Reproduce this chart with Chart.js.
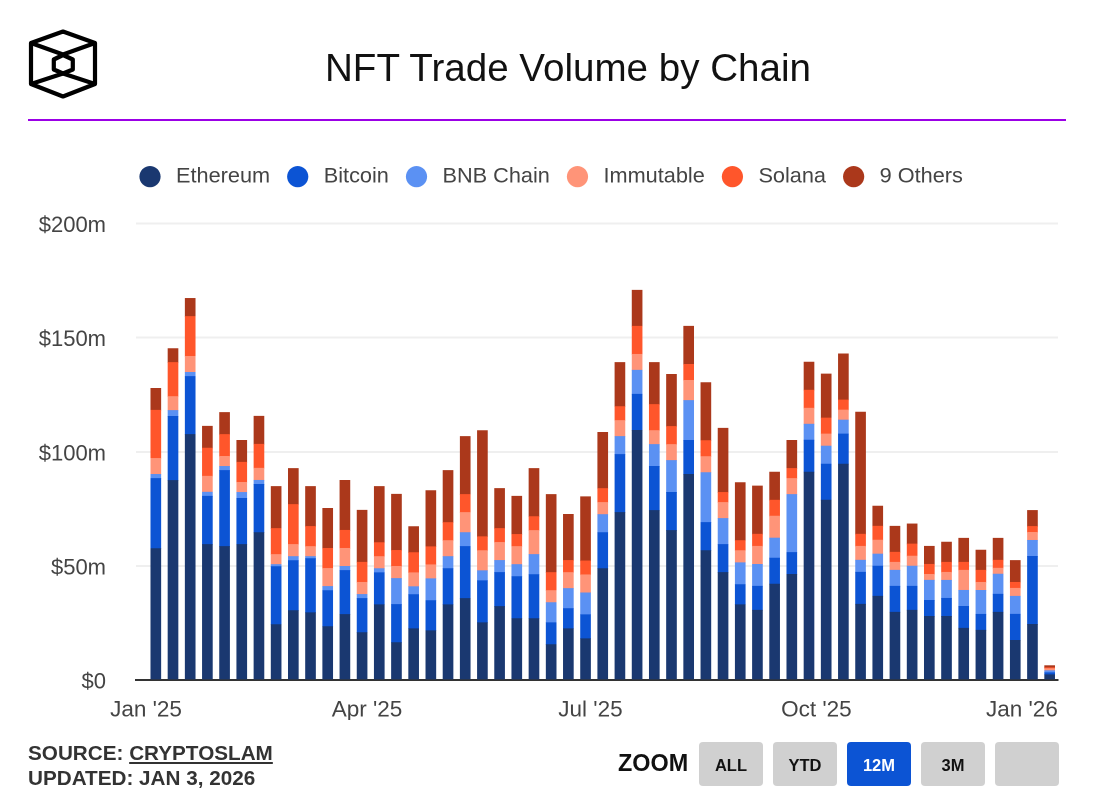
<!DOCTYPE html>
<html><head><meta charset="utf-8">
<script src="https://cdn.jsdelivr.net/npm/chart.js@4"></script>
<style>
html,body{margin:0;padding:0;background:#fff;width:1094px;height:800px;overflow:hidden;font-family:"Liberation Sans",Arial,sans-serif}
#wrap{position:relative;width:1094px;height:800px}
canvas{position:absolute;left:0;top:0}
.abs{position:absolute;white-space:nowrap}
#title{left:0;width:1136px;top:44px;text-align:center;font-size:38.6px;line-height:48px;color:#111}
#rule{left:28px;top:119px;width:1038px;height:2px;background:#9b00e6}
.foot{left:28px;font-size:20.7px;font-weight:700;color:#333;line-height:24px}
#zoomlbl{left:618px;top:749px;font-size:23.4px;line-height:28px;font-weight:700;color:#111}
.btn{top:742px;width:64px;height:44px;border-radius:4px;background:#d0d0d0;color:#111;font-size:16.5px;font-weight:700;text-align:center;line-height:47px}
.btn.on{background:#0c54d4;color:#fff}
</style></head><body>
<div id="wrap">
<canvas id="c" width="1094" height="800" style="width:1094px;height:800px"></canvas>
<svg class="abs" style="left:0;top:0" width="130" height="110" viewBox="0 0 130 110">
<g fill="none" stroke="#000" stroke-width="4.2" stroke-linejoin="round">
<path d="M63 31.500L95 43V84L63 96.500L31 84V43Z"/>
<path d="M31 43L63 54.500L95 43M31 84L63 73.500L95 84"/>
<path d="M63 55L72.800 59.500V69.500L63 73.500L53.800 69.500V59.500Z"/>
</g></svg>
<div class="abs" id="title">NFT Trade Volume by Chain</div>
<div class="abs" id="rule"></div>
<div class="abs foot" style="top:741px">SOURCE: <span style="text-decoration:underline">CRYPTOSLAM</span></div>
<div class="abs foot" style="top:766px">UPDATED: JAN 3, 2026</div>
<div class="abs" id="zoomlbl">ZOOM</div>
<div class="abs btn" style="left:699px">ALL</div>
<div class="abs btn" style="left:773px">YTD</div>
<div class="abs btn on" style="left:847px">12M</div>
<div class="abs btn" style="left:921px">3M</div>
<div class="abs btn" style="left:995px"></div>
</div>
<script>
const weekDates = ["2025-01-05","2025-01-12","2025-01-19","2025-01-26","2025-02-02","2025-02-09","2025-02-16","2025-02-23","2025-03-02","2025-03-09","2025-03-16","2025-03-23","2025-03-30","2025-04-06","2025-04-13","2025-04-20","2025-04-27","2025-05-04","2025-05-11","2025-05-18","2025-05-25","2025-06-01","2025-06-08","2025-06-15","2025-06-22","2025-06-29","2025-07-06","2025-07-13","2025-07-20","2025-07-27","2025-08-03","2025-08-10","2025-08-17","2025-08-24","2025-08-31","2025-09-07","2025-09-14","2025-09-21","2025-09-28","2025-10-05","2025-10-12","2025-10-19","2025-10-26","2025-11-02","2025-11-09","2025-11-16","2025-11-23","2025-11-30","2025-12-07","2025-12-14","2025-12-21","2025-12-28","2026-01-04"];
const ethereum = [57.6,87.4,107.6,59.4,58.5,59.4,64.6,24.3,30.4,29.5,23.4,28.7,20.8,33.0,16.4,22.5,21.6,33.0,35.7,25.1,32.2,26.9,26.9,15.5,22.5,18.1,48.8,73.4,109.4,74.3,65.5,90.1,56.7,47.1,33.0,30.6,42.0,46.3,91.1,78.8,94.6,33.2,36.7,29.7,30.6,27.9,27.9,22.7,21.8,29.7,17.4,24.4,2.3];
const bitcoin = [30.7,28.1,25.4,21.1,33.3,20.2,21.1,25.4,21.9,23.7,15.8,19.3,14.9,14.0,16.7,14.9,13.2,15.8,22.8,18.4,14.9,18.4,19.3,9.6,8.8,10.5,15.8,25.4,15.8,19.3,16.7,14.9,12.3,12.3,8.8,10.5,11.4,9.6,14.0,15.8,13.2,14.0,13.2,11.4,10.5,7.0,7.9,9.6,7.0,7.9,11.4,29.8,0.9];
const bnbChain = [1.8,2.6,1.8,1.8,1.8,2.6,1.8,0.9,1.8,0.9,1.8,1.8,1.8,1.8,11.4,3.5,9.6,5.3,6.1,4.4,5.3,5.3,8.8,8.8,8.8,9.6,7.9,7.9,10.5,9.6,14.0,17.5,21.9,11.4,9.6,9.6,8.8,25.4,7.0,7.9,6.1,5.3,5.3,7.0,8.8,8.8,7.9,7.0,10.5,8.8,7.9,7.0,0.9];
const immutable = [7.0,6.1,7.0,7.0,4.4,4.4,5.3,4.4,5.3,4.4,7.9,7.9,5.3,5.3,5.3,6.1,6.1,7.0,8.8,8.8,7.9,7.9,10.5,5.3,7.0,7.9,5.3,7.0,7.0,6.1,7.0,8.8,7.0,7.0,5.3,7.9,9.6,7.0,7.0,5.3,4.4,6.1,6.1,3.5,4.4,2.6,3.5,8.8,3.5,2.6,3.5,3.5,0.9];
const solana = [21.1,14.9,17.5,12.3,9.6,8.8,10.5,11.4,17.5,8.8,8.8,7.9,8.8,6.1,7.0,8.8,7.9,7.9,7.9,6.1,6.1,5.3,6.1,7.9,5.3,6.1,6.1,6.1,12.3,11.4,7.9,7.0,7.0,4.4,4.4,5.3,7.0,4.4,7.9,7.0,4.4,5.3,6.1,4.4,5.3,4.4,4.4,3.5,5.3,3.5,2.6,2.6,0.4];
const others = [9.6,6.1,7.9,9.6,9.6,9.6,12.3,18.4,15.8,17.5,17.5,21.9,22.8,24.6,24.6,11.4,24.6,22.8,25.4,46.5,17.5,16.7,21.1,34.2,20.2,28.1,24.6,19.3,15.8,18.4,22.8,16.7,25.4,28.1,25.4,21.1,12.3,12.3,12.3,19.3,20.2,53.5,8.8,11.4,8.8,7.9,8.8,10.5,8.8,9.6,9.6,7.0,0.9];
const seriesNames = ["Ethereum","Bitcoin","BNB Chain","Immutable","Solana","9 Others"];
const seriesColors = ["#1a3870","#0c54d4","#5b91f3","#ff9478","#ff562b","#ab381b"];
const seriesValues = [ethereum,bitcoin,bnbChain,immutable,solana,others];
const xTickDays = [0,90,181,273,356.7];   // last label sits inside the plot's right edge
const xTickLabels = ["Jan '25","Apr '25","Jul '25","Oct '25","Jan '26"];
const yTicks = [0,50,100,150,200];

const day0 = Date.UTC(2025,0,1);
const days = weekDates.map(d => (Date.parse(d+"T00:00:00Z")-day0)/864e5);
const fontFamily = "'Liberation Sans',Arial,sans-serif";

const legendSpacer = {
  id:"legendSpacer",
  beforeInit(chart){
    const fit = chart.legend.fit;
    chart.legend.fit = function(){ fit.call(this); this.height += 26; };
  },
  afterLayout(chart){ chart.legend.left = 44; }
};

new Chart(document.getElementById("c"),{
  type:"bar",
  plugins:[legendSpacer],
  data:{datasets:seriesNames.map((n,i)=>({
    label:n,
    data:seriesValues[i].map((v,j)=>({x:days[j],y:v})),
    backgroundColor:seriesColors[i],
    borderWidth:0,
    barThickness:10
  }))},
  options:{
    responsive:false,animation:false,devicePixelRatio:2,
    layout:{padding:{left:0,right:36,top:149,bottom:80}},
    plugins:{
      tooltip:{enabled:false},title:{display:false},
      legend:{display:true,position:"top",align:"center",
        labels:{usePointStyle:true,pointStyle:"circle",boxWidth:22,boxHeight:15,padding:16.8,color:"#444",
          font:{family:fontFamily,size:21.7},
          generateLabels:c=>Chart.defaults.plugins.legend.labels.generateLabels(c).map(l=>({...l,text:"\u2009"+l.text}))}}
    },
    scales:{
      x:{type:"linear",stacked:true,offset:false,min:-4.07,max:371.4,
        grid:{display:false,drawTicks:false},
        border:{display:true,color:"#333",width:2},
        afterBuildTicks:s=>{s.ticks=xTickDays.map(v=>({value:v}));},
        afterFit:s=>{s.height=40;},
        ticks:{autoSkip:false,maxRotation:0,minRotation:0,padding:17,color:"#444",
          font:{family:fontFamily,size:22.5},
          callback:(v)=>xTickLabels[xTickDays.indexOf(v)]}
      },
      y:{type:"linear",stacked:true,min:0,max:200,
        grid:{color:"#efefef",lineWidth:2,drawTicks:false},
        border:{display:false},
        afterBuildTicks:s=>{s.ticks=yTicks.map(v=>({value:v}));},
        afterFit:s=>{s.width=136;},
        ticks:{padding:30,labelOffset:2.5,color:"#444",
          font:{family:fontFamily,size:22},
          callback:v=>v===0?"$0":"$"+v+"m"}
      }
    }
  }
});
</script>
</body></html>
